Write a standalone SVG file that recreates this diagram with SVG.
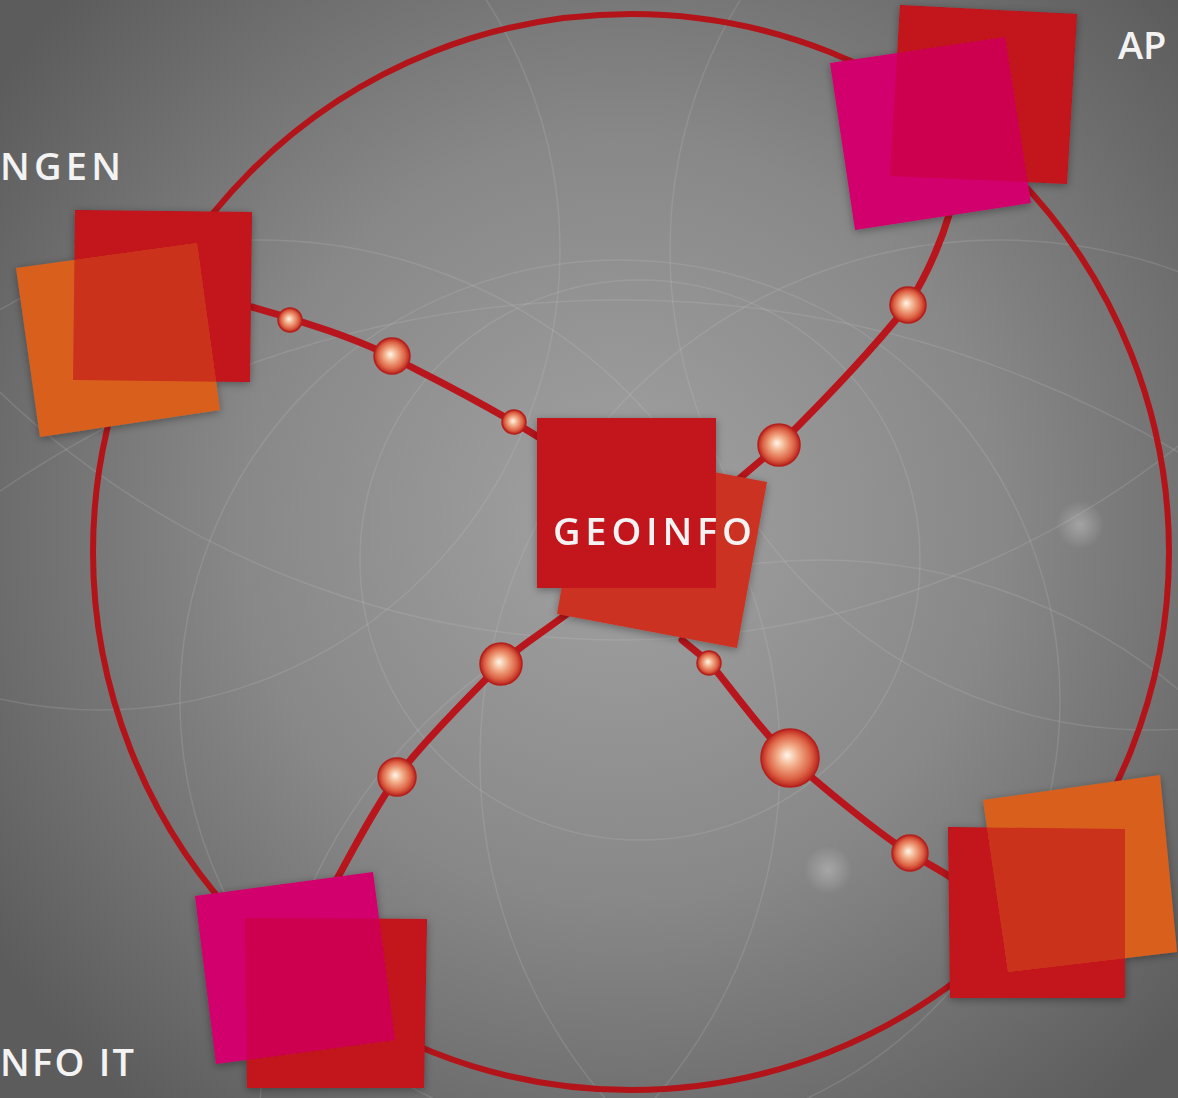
<svg xmlns="http://www.w3.org/2000/svg" width="1178" height="1098" viewBox="0 0 1178 1098">
<style>
.lbl{font-family:"Open Sans","Liberation Sans",sans-serif;font-weight:600;font-size:38px;fill:#f3f3f3}
.ring{fill:none;stroke:#b3141a;stroke-width:6}
.spoke{fill:none;stroke:#b8151c;stroke-width:7;stroke-linecap:round}
.red{fill:#c2121b}
.orange{fill:#d9611d}
.magenta{fill:#d1006d}
.lred{fill:#cc3223}
.bead{fill:url(#beadG);stroke:#b51f1c;stroke-width:1.5}
.arc{fill:none;stroke:#d0d0d0;stroke-opacity:0.17;stroke-width:1.5}
</style>
<defs>
<radialGradient id="bgG" cx="620" cy="520" r="760" gradientUnits="userSpaceOnUse">
<stop offset="0" stop-color="#a2a2a2"/>
<stop offset="0.5" stop-color="#888888"/>
<stop offset="1" stop-color="#5c5c5c"/>
</radialGradient>
<radialGradient id="beadG" cx="0.5" cy="0.5" r="0.5" fx="0.45" fy="0.45">
<stop offset="0" stop-color="#fff6ea"/>
<stop offset="0.35" stop-color="#f3b08c"/>
<stop offset="0.75" stop-color="#dc6244"/>
<stop offset="1" stop-color="#b9231d"/>
</radialGradient>
<radialGradient id="spotG">
<stop offset="0" stop-color="#c8c8c8" stop-opacity="0.5"/>
<stop offset="1" stop-color="#c8c8c8" stop-opacity="0"/>
</radialGradient>
<filter id="sh" x="-20%" y="-20%" width="140%" height="140%">
<feDropShadow dx="0" dy="2" stdDeviation="4" flood-color="#000" flood-opacity="0.35"/>
</filter>
<clipPath id="c1"><polygon points="16,268 197,243 220,410 40,437"/></clipPath>
<clipPath id="c2"><polygon points="830,63 1005,37 1031,203 855,230"/></clipPath>
<clipPath id="c4"><polygon points="195,896 373,872 395,1040 216,1064"/></clipPath>
<clipPath id="c5"><polygon points="983,800 1160,775 1177,952 1008,972"/></clipPath>
</defs>

<rect width="1178" height="1098" fill="url(#bgG)"/>
<g id="bg-arcs">
<circle class="arc" cx="620" cy="700" r="440"/>
<circle class="arc" cx="640" cy="560" r="280"/>
<circle class="arc" cx="260" cy="760" r="520"/>
<circle class="arc" cx="1000" cy="760" r="520"/>
<circle class="arc" cx="620" cy="-260" r="900"/>
<circle class="arc" cx="620" cy="1400" r="1100"/>
<circle class="arc" cx="1150" cy="250" r="480"/>
<circle class="arc" cx="100" cy="250" r="460"/>
<circle class="arc" cx="820" cy="1120" r="560"/>
<circle cx="1080" cy="525" r="24" fill="url(#spotG)"/>
<circle cx="828" cy="870" r="24" fill="url(#spotG)"/>
</g>

<circle id="ring" class="ring" cx="631" cy="552" r="538"/>

<g id="connectors">
<path class="spoke" d="M252,307 C300,320 360,340 392,357 S480,400 548,443"/>
<path class="spoke" d="M733,484 L779,445 Q860,365 908,305 Q935,262 950,212"/>
<path class="spoke" d="M572,610 C540,635 520,645 500,665 S420,745 397,777 S350,855 330,892"/>
<path class="spoke" d="M682,640 L710,663 C740,700 765,735 790,758 S880,835 910,853 S940,870 955,880"/>
<circle class="bead" cx="290" cy="320" r="12"/>
<circle class="bead" cx="392" cy="356" r="18"/>
<circle class="bead" cx="514" cy="422" r="12"/>
<circle class="bead" cx="779" cy="445" r="21"/>
<circle class="bead" cx="908" cy="305" r="18"/>
<circle class="bead" cx="501" cy="664" r="21"/>
<circle class="bead" cx="397" cy="777" r="19"/>
<circle class="bead" cx="709" cy="663" r="12"/>
<circle class="bead" cx="790" cy="758" r="29"/>
<circle class="bead" cx="910" cy="853" r="18"/>
</g>

<g id="node-anwendungen" filter="url(#sh)">
<polygon class="red" points="75,210 252,212 250,382 73,380"/>
<polygon class="orange" points="16,268 197,243 220,410 40,437"/>
<polygon class="red" points="75,210 252,212 250,382 73,380" clip-path="url(#c1)" opacity="0.6"/>
</g>
<text class="lbl" x="0" y="180" textLength="121" lengthAdjust="spacing">NGEN</text>

<g id="node-applikationen" filter="url(#sh)">
<polygon class="red" points="900,5 1077,14 1067,184 890,176"/>
<polygon class="magenta" points="830,63 1005,37 1031,203 855,230"/>
<polygon class="red" points="900,5 1077,14 1067,184 890,176" clip-path="url(#c2)" opacity="0.35"/>
</g>
<text class="lbl" x="1118" y="59">AP</text>

<g id="node-geoinfo" filter="url(#sh)">
<polygon class="lred" points="586,448 767,482 737,648 557,614"/>
<rect class="red" x="537" y="418" width="179" height="170"/>
<text class="lbl" x="553" y="545" textLength="199" lengthAdjust="spacing">GEOINFO</text>
</g>

<g id="node-geoinfo-it" filter="url(#sh)">
<polygon class="red" points="245,918 427,919 424,1088 247,1088"/>
<polygon class="magenta" points="195,896 373,872 395,1040 216,1064"/>
<polygon class="red" points="245,918 427,919 424,1088 247,1088" clip-path="url(#c4)" opacity="0.35"/>
</g>
<text class="lbl" x="0" y="1076" textLength="134" lengthAdjust="spacing">NFO IT</text>

<g id="node-bottom-right" filter="url(#sh)">
<polygon class="red" points="948,827 1125,829 1125,998 950,998"/>
<polygon class="orange" points="983,800 1160,775 1177,952 1008,972"/>
<polygon class="red" points="948,827 1125,829 1125,998 950,998" clip-path="url(#c5)" opacity="0.6"/>
</g>
</svg>
